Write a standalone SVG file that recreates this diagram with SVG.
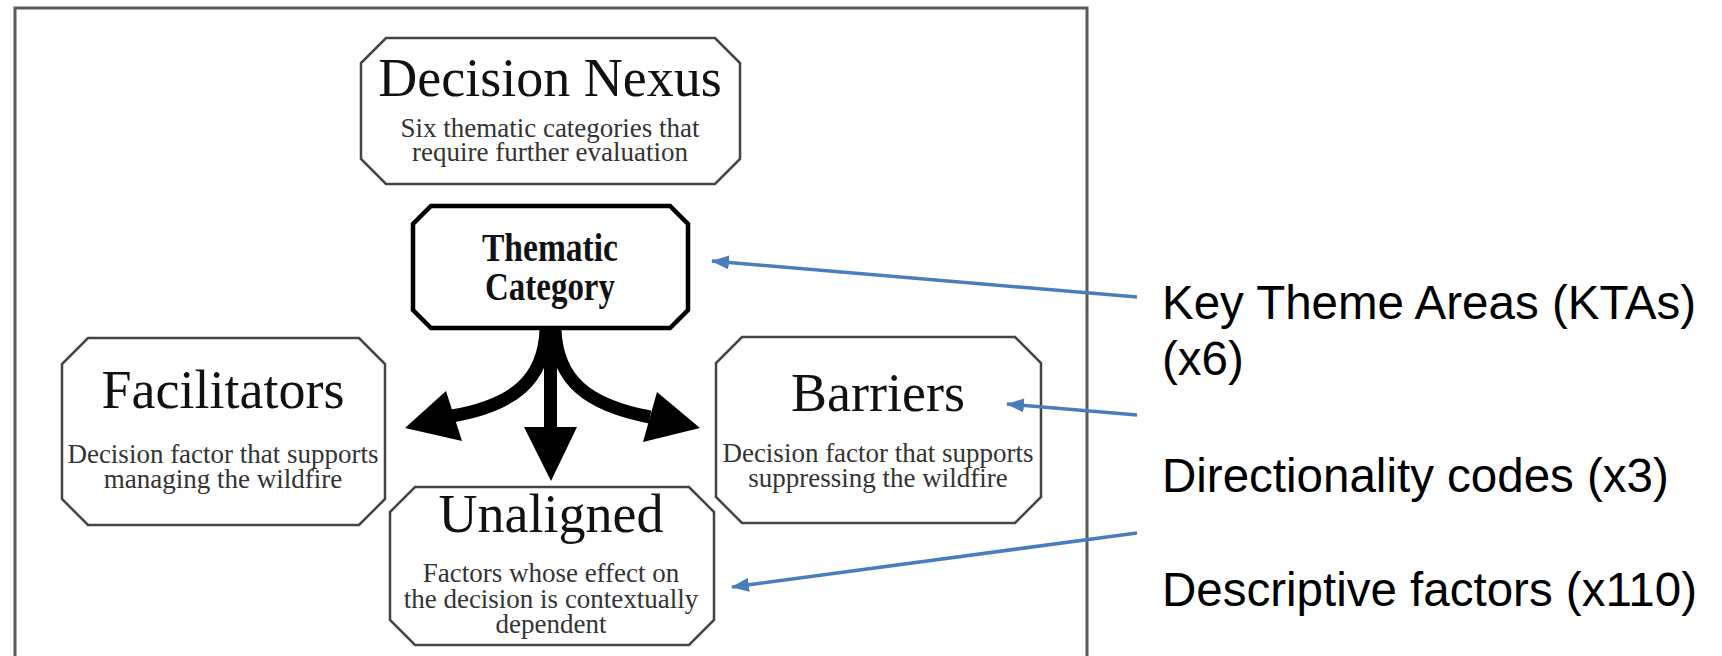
<svg xmlns="http://www.w3.org/2000/svg" width="1722" height="656" viewBox="0 0 1722 656">
<defs>
<style>
.box{fill:#fff;stroke:#444;stroke-width:2.5}
.tbox{fill:#fff;stroke:#000;stroke-width:4.5}
.title{font-family:"Liberation Serif","Times New Roman",serif;font-size:54px;fill:#111;text-anchor:middle}
.sub{font-family:"Liberation Serif","Times New Roman",serif;font-size:27px;fill:#333;text-anchor:middle}
.bold{font-family:"Liberation Serif","Times New Roman",serif;font-size:41px;font-weight:bold;fill:#111;text-anchor:middle}
.lab{font-family:"Liberation Sans",Arial,sans-serif;font-size:47.5px;fill:#000}
.blue{stroke:#4A7EBB;stroke-width:3.5;fill:none;marker-end:url(#bh)}
.blk{stroke:#000;stroke-width:13;fill:none}
</style>
<marker id="bh" markerUnits="userSpaceOnUse" markerWidth="18" markerHeight="14" refX="17" refY="7" orient="auto">
<path d="M0,0 L18,7 L0,14 Z" fill="#4A7EBB"/>
</marker>
</defs>
<rect width="1722" height="656" fill="#fff"/>
<rect id="frame" x="15" y="8" width="1072" height="660" fill="none" stroke="#5a5a5a" stroke-width="3"/>

<g id="decision-nexus">
<path class="box" d="M386,38 H715 L740,63 V159 L715,184 H386 L361,159 V63 Z"/>
<text class="title" x="550" y="96">Decision Nexus</text>
<text class="sub" x="550" y="137">Six thematic categories that</text>
<text class="sub" x="550" y="161">require further evaluation</text>
</g>

<g id="thematic-category">
<path class="tbox" d="M431,206 H670 L688,224 V310 L670,328 H431 L413,310 V224 Z"/>
<text class="bold" x="550" y="261" textLength="136" lengthAdjust="spacingAndGlyphs">Thematic</text>
<text class="bold" x="550" y="300" textLength="130" lengthAdjust="spacingAndGlyphs">Category</text>
</g>

<g id="facilitators">
<path class="box" d="M88,338 H359 L385,364 V499 L359,525 H88 L62,499 V364 Z"/>
<text class="title" x="223" y="408">Facilitators</text>
<text class="sub" x="223" y="463">Decision factor that supports</text>
<text class="sub" x="223" y="488">managing the wildfire</text>
</g>

<g id="barriers">
<path class="box" d="M742,337 H1015 L1041,363 V497 L1015,523 H742 L716,497 V363 Z"/>
<text class="title" x="878" y="411">Barriers</text>
<text class="sub" x="878" y="462">Decision factor that supports</text>
<text class="sub" x="878" y="487">suppressing the wildfire</text>
</g>

<g id="unaligned">
<path class="box" d="M415,487 H689 L714,512 V620 L689,645 H415 L390,620 V512 Z"/>
<text class="title" x="551" y="532">Unaligned</text>
<text class="sub" x="551" y="582">Factors whose effect on</text>
<text class="sub" x="551" y="608">the decision is contextually</text>
<text class="sub" x="551" y="633">dependent</text>
</g>

<g id="legend">
<text class="lab" x="1162" y="319">Key Theme Areas (KTAs)</text>
<text class="lab" x="1162" y="375">(x6)</text>
<text class="lab" x="1162" y="492">Directionality codes (x3)</text>
<text class="lab" x="1162" y="606">Descriptive factors (x110)</text>
</g>

<g id="connectors">
<path class="blk" d="M546,330 C544,380 514,405 452,416"/>
<polygon points="405,428 446,391 462,441" fill="#000"/>
<path class="blk" d="M555,330 C557,380 587,405 650,417"/>
<polygon points="700,428 657,392 643,442" fill="#000"/>
<path class="blk" d="M550.5,330 V430"/>
<polygon points="524,427 577,427 551,481" fill="#000"/>
<path class="blue" d="M1137,297 L712,261"/>
<path class="blue" d="M1137,415 L1007,404"/>
<path class="blue" d="M1137,533 L732,587"/>
</g>
</svg>
